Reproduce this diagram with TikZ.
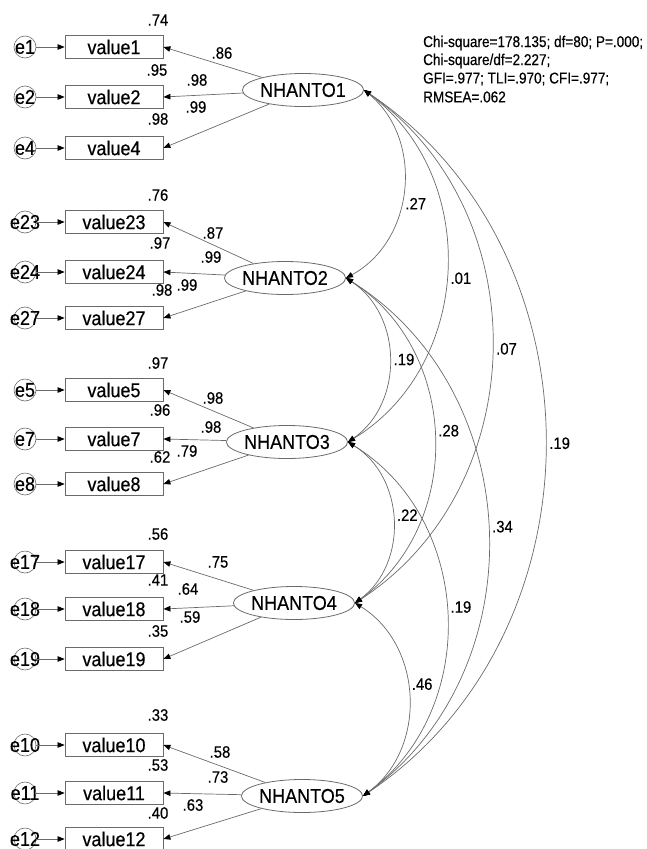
\documentclass[tikz,border=0pt]{standalone}
\usepackage{fontspec}
\setmainfont{Liberation Sans}
\newfontfamily\nrw[FakeStretch=0.9,FakeBold=0.4]{Liberation Sans}
\newfontfamily\nrws[FakeStretch=0.87,FakeBold=0.4]{Liberation Sans}
\usetikzlibrary{shapes.geometric,arrows.meta}
\definecolor{linegray}{HTML}{6A6A6A}
\begin{document}
\begin{tikzpicture}[x=1pt,y=-1pt,
  lat/.style={ellipse,draw=linegray,line width=0.8pt,minimum width=106pt,minimum height=33pt,inner sep=0pt,font=\nrw\fontsize{20}{22}\selectfont},
  obs/.style={rectangle,draw=linegray,line width=0.8pt,minimum width=98pt,minimum height=23pt,inner sep=0pt,font=\nrw\fontsize{20}{22}\selectfont},
  err/.style={circle,draw=linegray,line width=0.6pt,minimum size=22pt,inner sep=0pt},
  elbl/.style={font=\nrw\fontsize{20}{22}\selectfont,inner sep=0pt},
  num/.style={font=\nrw\fontsize{16.5}{18}\selectfont,inner sep=0pt},
  stat/.style={font=\nrws\fontsize{15.6}{17}\selectfont,inner sep=0pt,anchor=west},
  load/.style={draw=linegray,line width=0.7pt,-{Triangle[length=7pt,width=5.5pt,color=black]}},
  cov/.style={draw=linegray,line width=0.7pt,{Triangle[length=7pt,width=5.5pt,color=black]}-{Triangle[length=7pt,width=5.5pt,color=black]},bend left=56,looseness=1.06},
  clbl/.style={num,anchor=west,xshift=4pt}
]
\useasboundingbox (0,0) rectangle (647,849);

% observed variables and errors
\foreach \n/\y in {1/47,2/97,4/148,23/222,24/272,27/318,5/390,7/439,8/484,17/562,18/609,19/659,10/745,11/793,12/839}{
  \node[obs] (v\n) at (114,\y) {value\n};
  \node[err,label={[elbl]center:e\n}] (e\n) at (25,\y) {};
  \draw[load] (e\n) -- (v\n);
}

% latent variables
\node[lat] (N1) at (303,90) {NHANTO1};
\node[lat] (N2) at (285,278) {NHANTO2};
\node[lat] (N3) at (287,442) {NHANTO3};
\node[lat] (N4) at (294,603) {NHANTO4};
\node[lat] (N5) at (302,796) {NHANTO5};

% loadings
\draw[load] (N1) -- (v1.east);
\draw[load] (N1) -- (v2.east);
\draw[load] (N1) -- (v4.east);
\draw[load] (N2) -- (v23.east);
\draw[load] (N2) -- (v24.east);
\draw[load] (N2) -- (v27.east);
\draw[load] (N3) -- (v5.east);
\draw[load] (N3) -- (v7.east);
\draw[load] (N3) -- (v8.east);
\draw[load] (N4) -- (v17.east);
\draw[load] (N4) -- (v18.east);
\draw[load] (N4) -- (v19.east);
\draw[load] (N5) -- (v10.east);
\draw[load] (N5) -- (v11.east);
\draw[load] (N5) -- (v12.east);

% loading labels
\node[num] (l1) at (222,53) {.86};
\node[num] (l2) at (197,80) {.98};
\node[num] (l4) at (196,107) {.99};
\node[num] (l23) at (213,233) {.87};
\node[num] (l24) at (211,257) {.99};
\node[num] (l27) at (187,285) {.99};
\node[num] (l5) at (213,398) {.98};
\node[num] (l7) at (211,427) {.98};
\node[num] (l8) at (187,451) {.79};
\node[num] (l17) at (218,562) {.75};
\node[num] (l18) at (188,589) {.64};
\node[num] (l19) at (190,617) {.59};
\node[num] (l10) at (220,752) {.58};
\node[num] (l11) at (218,777) {.73};
\node[num] (l12) at (193,805) {.63};

% squared multiple correlations
\node[num] (r1) at (158,20) {.74};
\node[num] (r2) at (157,70) {.95};
\node[num] (r4) at (158,119) {.98};
\node[num] (r23) at (158,195) {.76};
\node[num] (r24) at (160,243) {.97};
\node[num] (r27) at (162,290) {.98};
\node[num] (r5) at (158,363) {.97};
\node[num] (r7) at (160,410) {.96};
\node[num] (r8) at (160,457) {.62};
\node[num] (r17) at (158,534) {.56};
\node[num] (r18) at (158,580) {.41};
\node[num] (r19) at (158,631) {.35};
\node[num] (r10) at (158,715) {.33};
\node[num] (r11) at (158,765) {.53};
\node[num] (r12) at (158,813) {.40};

% covariances
\draw[cov] (N1.east) to node[clbl,pos=0.57] (c12) {.27} (N2.east);
\draw[cov] (N1.east) to node[clbl,pos=0.52] (c13) {.01} (N3.east);
\draw[cov] (N1.east) to node[clbl,pos=0.50] (c14) {.07} (N4.east);
\draw[cov] (N1.east) to node[clbl,pos=0.50] (c15) {.19} (N5.east);
\draw[cov] (N2.east) to node[clbl,pos=0.50] (c23) {.19} (N3.east);
\draw[cov] (N2.east) to node[clbl,pos=0.48] (c24) {.28} (N4.east);
\draw[cov] (N2.east) to node[clbl,pos=0.49] (c25) {.34} (N5.east);
\draw[cov] (N3.east) to node[clbl,pos=0.47] (c34) {.22} (N4.east);
\draw[cov] (N3.east) to node[clbl,pos=0.48] (c35) {.19} (N5.east);
\draw[cov] (N4.east) to node[clbl,pos=0.44] (c45) {.46} (N5.east);

% fit statistics
\node[stat] (s1) at (423,43) {Chi-square=178.135; df=80; P=.000;};
\node[stat] (s2) at (423,61) {Chi-square/df=2.227;};
\node[stat] (s3) at (423,79) {GFI=.977; TLI=.970; CFI=.977;};
\node[stat] (s4) at (423,97) {RMSEA=.062};
\end{tikzpicture}
\end{document}
